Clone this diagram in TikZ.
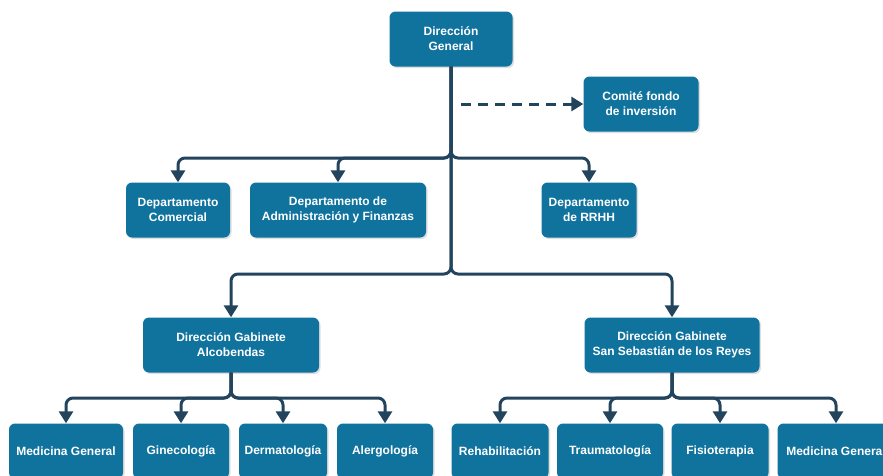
\documentclass[tikz,border=0pt]{standalone}
\usepackage{fontspec}
\setmainfont{Liberation Sans}
\usetikzlibrary{positioning, arrows.meta, shadows}
\definecolor{cajaazul}{HTML}{10739E}
\definecolor{lineaoscura}{HTML}{23445D}

\begin{document}
\begin{tikzpicture}[on grid,
    caja/.style={rectangle, rounded corners=6pt, fill=cajaazul, text=white,
        font=\bfseries\fontsize{12}{15}\selectfont, align=center,
        minimum height=55pt, inner sep=2pt,
        drop shadow={shadow xshift=1.5pt, shadow yshift=-1.5pt, opacity=0.25}},
    enlace/.style={draw=lineaoscura, line width=3pt, rounded corners=7pt,
        -{Triangle[length=12pt, width=14pt]}}]
    \useasboundingbox (0,0) rectangle (883pt,-475pt);

    % cabecera
    \node[caja, minimum width=123pt] (dg) at (451pt,-39pt) {Dirección\\General};
    \node[caja, minimum width=115pt, below right=65pt and 190pt of dg] (comite) {Comité fondo\\de inversión};

    % departamentos
    \node[caja, minimum width=104pt, below left=171pt and 273pt of dg] (comercial) {Departamento\\Comercial};
    \node[caja, minimum width=176pt, below left=171pt and 113pt of dg] (admin) {Departamento de\\Administración y Finanzas};
    \node[caja, minimum width=95pt, below right=171pt and 138pt of dg] (rrhh) {Departamento\\de RRHH};

    % gabinetes
    \node[caja, minimum width=176pt, below left=306pt and 220pt of dg] (alc) {Dirección Gabinete\\Alcobendas};
    \node[caja, minimum width=175pt, below right=306pt and 221pt of dg] (ssr) {Dirección Gabinete\\San Sebastián de los Reyes};

    % especialidades Alcobendas
    \node[caja, minimum width=114pt, below left=106pt and 165pt of alc] (medgen1) {Medicina General};
    \node[caja, minimum width=96pt, below left=106pt and 50pt of alc] (gine) {Ginecología};
    \node[caja, minimum width=88pt, below right=106pt and 52pt of alc] (derma) {Dermatología};
    \node[caja, minimum width=96pt, below right=106pt and 154pt of alc] (alerg) {Alergología};

    % especialidades San Sebastian
    \node[caja, minimum width=97pt, below left=106pt and 172pt of ssr] (rehab) {Rehabilitación};
    \node[caja, minimum width=106pt, below left=106pt and 62pt of ssr] (trauma) {Traumatología};
    \node[caja, minimum width=97pt, below right=106pt and 48pt of ssr] (fisio) {Fisioterapia};
    \node[caja, minimum width=117pt, below right=106pt and 164pt of ssr] (medgen2) {Medicina General};

    % puntos de reparto
    \coordinate[below=119pt of dg] (busdep);
    \coordinate[below=235pt of dg] (busgab);
    \coordinate[below=53pt of alc] (busalc);
    \coordinate[below=53pt of ssr] (busssr);
    \coordinate[xshift=10pt] (fondo) at (dg |- comite);

    \draw[enlace, dash pattern=on 10pt off 7pt] (fondo) -- (comite);

    \draw[enlace] (dg) -- (busdep) -| (comercial);
    \draw[enlace] (dg) -- (busdep) -| (admin);
    \draw[enlace] (dg) -- (busdep) -| (rrhh);
    \draw[enlace] (dg) -- (busgab) -| (alc);
    \draw[enlace] (dg) -- (busgab) -| (ssr);

    \draw[enlace] (alc) -- (busalc) -| (medgen1);
    \draw[enlace] (alc) -- (busalc) -| (gine);
    \draw[enlace] (alc) -- (busalc) -| (derma);
    \draw[enlace] (alc) -- (busalc) -| (alerg);

    \draw[enlace] (ssr) -- (busssr) -| (rehab);
    \draw[enlace] (ssr) -- (busssr) -| (trauma);
    \draw[enlace] (ssr) -- (busssr) -| (fisio);
    \draw[enlace] (ssr) -- (busssr) -| (medgen2);
\end{tikzpicture}
\end{document}
